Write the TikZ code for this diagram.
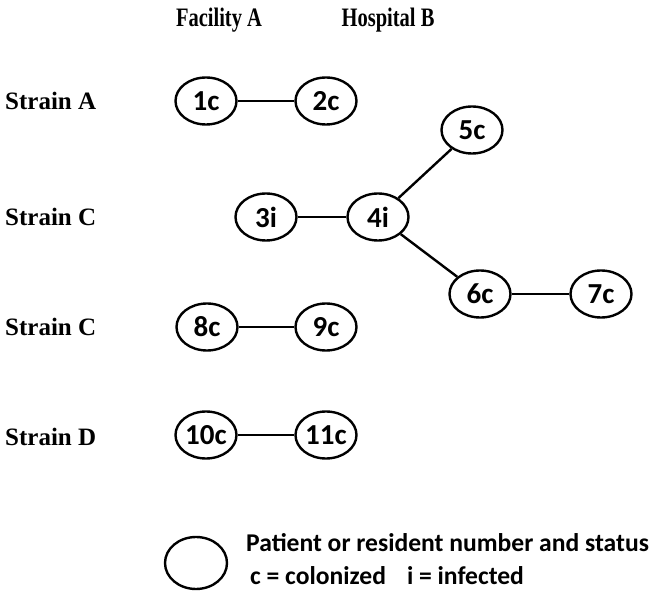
\documentclass[tikz,border=0pt]{standalone}
\usepackage{fontspec}
\usetikzlibrary{shapes.geometric}
\setmainfont{Liberation Serif}
\newfontfamily\calib{Carlito}
\begin{document}
\begin{tikzpicture}[x=1pt,y=-1pt,
  pnode/.style={draw,line width=2.4pt,ellipse,minimum width=61pt,minimum height=47pt,inner sep=0pt,font=\calib\bfseries\fontsize{29}{29}\selectfont},
  link/.style={line width=2.4pt},
  strain/.style={anchor=west,inner sep=0pt,font=\bfseries\fontsize{25}{25}\selectfont},
  head/.style={inner sep=0pt,font=\bfseries\fontsize{20.5}{20.5}\selectfont}]
\useasboundingbox (0,0) rectangle (654,596);
\node[head] (hA) at (219,20) {\scalebox{1}[1.3]{Facility A}};
\node[head] (hB) at (388,20) {\scalebox{1}[1.3]{Hospital B}};
\node[strain] (sA) at (5,101) {Strain A};
\node[strain] (sC1) at (5,217) {Strain C};
\node[strain] (sC2) at (5,327) {Strain C};
\node[strain] (sD) at (5,437) {Strain D};
\node[pnode] (n1) at (206,101) {1c};
\node[pnode] (n2) at (326,101) {2c};
\node[pnode] (n5) at (472,130) {5c};
\node[pnode] (n3) at (266,217) {3i};
\node[pnode] (n4) at (378,217) {4i};
\node[pnode] (n6) at (480,294) {6c};
\node[pnode] (n7) at (601,294) {7c};
\node[pnode] (n8) at (207,327) {8c};
\node[pnode] (n9) at (326,327) {9c};
\node[pnode] (n10) at (206,435) {10c};
\node[pnode] (n11) at (326,435) {11c};
\draw[link] (n1) -- (n2);
\draw[link] (n3) -- (n4);
\draw[link] (n4) -- (n5);
\draw[link] (n4) -- (n6);
\draw[link] (n6) -- (n7);
\draw[link] (n8) -- (n9);
\draw[link] (n10) -- (n11);
\node[pnode,minimum width=62pt,minimum height=52pt] (leg) at (196,563) {};
\node[anchor=west,inner sep=0pt,font=\calib\bfseries\fontsize{25.6}{25.6}\selectfont] (l1) at (246,543) {Patient or resident number and status};
\node[anchor=west,inner sep=0pt,font=\calib\bfseries\fontsize{25.6}{25.6}\selectfont] (l2) at (250,576) {c = colonized\hspace{21pt}i = infected};
\end{tikzpicture}
\end{document}
